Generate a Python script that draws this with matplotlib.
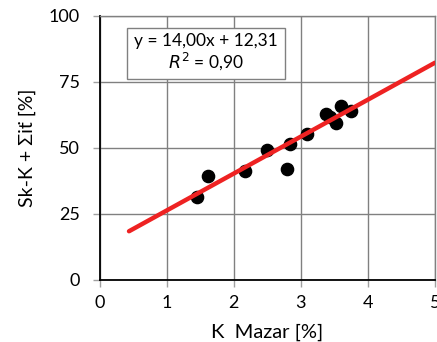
import matplotlib
matplotlib.use("agg")
import matplotlib.pyplot as plt
import numpy as np

plt.rcParams["font.family"] = ["Lato", "DejaVu Sans"]

# measured points
k_mazar = [1.45, 1.62, 2.17, 2.50, 2.79, 2.84, 3.09, 3.37, 3.43, 3.53, 3.60, 3.75]
sk_k_sum = [31.3, 39.5, 41.3, 49.2, 41.9, 51.4, 55.2, 62.9, 61.7, 59.4, 66.0, 64.1]

# trend line
slope = 14.00
intercept = 12.31
fit_x = [0.44, 5.0]

x_ticks = [0, 1, 2, 3, 4, 5]
y_ticks = [0, 25, 50, 75, 100]

fig = plt.figure(figsize=(4.37, 3.42), dpi=100)
ax = fig.add_axes([99.5 / 437, 1 - 280 / 342, (435 - 99.5) / 437, (280 - 16) / 342])

fx = np.array(fit_x)
ax.plot(fx, slope * fx + intercept, color="#ee2222", lw=3.2, solid_capstyle="round",
        zorder=3)
ax.plot(k_mazar, sk_k_sum, "o", color="black", ms=8.8, zorder=2)

ax.set_xlim(0, 5)
ax.set_ylim(0, 100)
ax.set_xticks(x_ticks)
ax.set_yticks(y_ticks)
ax.grid(True, color="#808080", lw=1.0)
ax.set_axisbelow(True)

for side in ["top", "right"]:
    ax.spines[side].set_color("#808080")
    ax.spines[side].set_linewidth(1.0)
for side in ["left", "bottom"]:
    ax.spines[side].set_color("black")
    ax.spines[side].set_linewidth(1.3)

ax.tick_params(axis="both", color="#a0a0a0", length=5, width=1, labelsize=13)
ax.tick_params(axis="y", pad=9)
ax.tick_params(axis="x", pad=6)

ax.set_xlabel("K  Mazar [%]", fontsize=14.5, labelpad=9)
ax.set_ylabel("Sk-K + Σiṫ [%]", fontsize=14, labelpad=9)

ax.text(0.317, 0.862, "y = 14,00x + 12,31\n$R^2$ = 0,90", transform=ax.transAxes,
        ha="center", va="center", fontsize=12.5, linespacing=1.05,
        bbox=dict(boxstyle="square,pad=0.4", facecolor="white", edgecolor="#808080", lw=1))

fig.savefig("out.png", dpi=100)
